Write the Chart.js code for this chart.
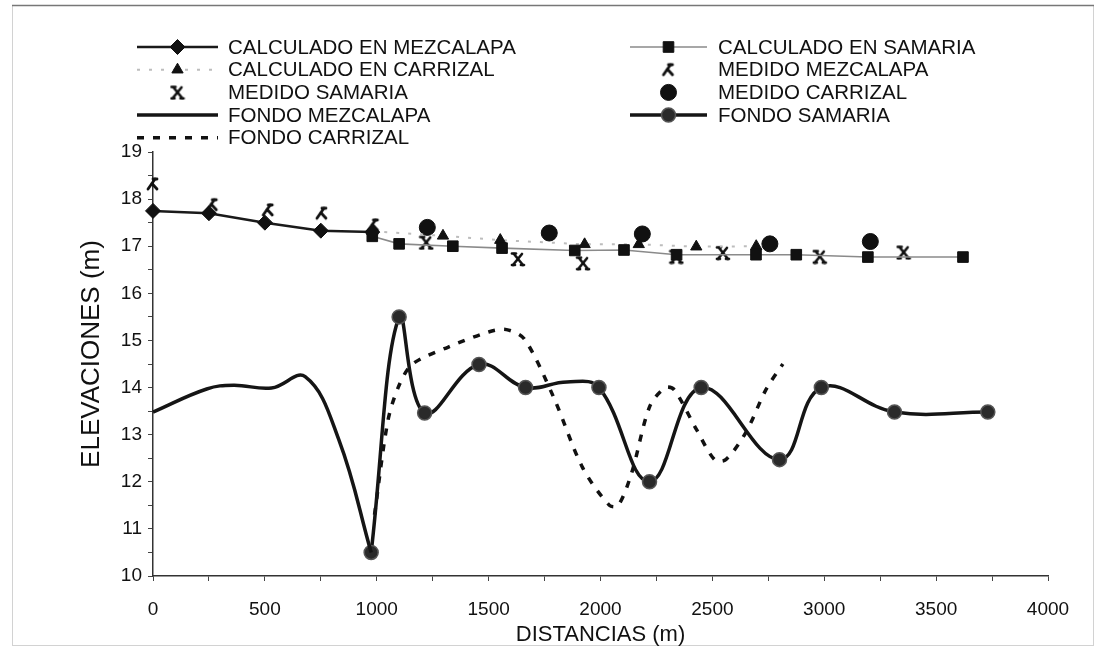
<!DOCTYPE html>
<html><head><meta charset="utf-8">
<script src="https://cdn.jsdelivr.net/npm/chart.js@4.4.1/dist/chart.umd.min.js"></script>
<style>html,body{margin:0;padding:0;background:#fff;}canvas{display:block;}</style>
</head><body>
<canvas id="c" width="1097" height="651"></canvas>
<script>
// ---------- data ----------
const calcMezX = [0, 250, 500, 750, 980];
const calcMezY = [17.75, 17.70, 17.50, 17.33, 17.30];

const calcSamX = [980, 1100, 1340, 1560, 1885, 2105, 2340, 2695, 2875, 3195, 3620];
const calcSamY = [17.21, 17.05, 17.00, 16.96, 16.91, 16.92, 16.82, 16.82, 16.82, 16.77, 16.77];

const calcCarrX = [980, 1296, 1552, 1929, 2171, 2428, 2696];
const calcCarrY = [17.32, 17.22, 17.13, 17.04, 17.04, 16.99, 17.00];

const medMezX = [0, 265, 515, 755, 985];
const medMezY = [18.32, 17.88, 17.77, 17.70, 17.45];

const medSamX = [1221, 1631, 1922, 2339, 2547, 2980, 3355];
const medSamY = [17.08, 16.73, 16.64, 16.78, 16.86, 16.78, 16.87];

const medCarrX = [1226, 1771, 2187, 2757, 3206];
const medCarrY = [17.40, 17.28, 17.26, 17.05, 17.10];

const fondoMezX = [0, 240, 360, 530, 680, 830, 975];
const fondoMezY = [13.48, 13.97, 14.05, 13.99, 14.23, 12.90, 10.50];

const fondoSamX = [975, 1100, 1214, 1457, 1665, 1850, 1993, 2219, 2450, 2800, 2987, 3314, 3731];
const fondoSamY = [10.50, 15.50, 13.46, 14.49, 14.00, 14.12, 14.00, 12.00, 14.00, 12.47, 14.00, 13.48, 13.48];
const fondoSamUnmarked = [1850];

const fondoCarrX = [990, 1050, 1100, 1160, 1320, 1500, 1580, 1660, 1790, 1920, 2040, 2080, 2140, 2220, 2290, 2330, 2430, 2510, 2560, 2650, 2740, 2815];
const fondoCarrY = [11.30, 13.30, 14.05, 14.50, 14.86, 15.18, 15.23, 15.03, 13.80, 12.30, 11.50, 11.50, 12.20, 13.60, 14.00, 13.95, 13.10, 12.47, 12.47, 13.05, 13.96, 14.50];

const seriesLabels = ['CALCULADO EN MEZCALAPA', 'CALCULADO EN SAMARIA', 'CALCULADO EN CARRIZAL', 'MEDIDO MEZCALAPA',
  'MEDIDO SAMARIA', 'MEDIDO CARRIZAL', 'FONDO MEZCALAPA', 'FONDO SAMARIA', 'FONDO CARRIZAL'];

const yTickValues = [10, 11, 12, 13, 14, 15, 16, 17, 18, 19];
const yTickLabels = ['10', '11', '12', '13', '14', '15', '16', '17', '18', '19'];
const xTickValues = [0, 500, 1000, 1500, 2000, 2500, 3000, 3500, 4000];
const xTickLabels = ['0', '500', '1000', '1500', '2000', '2500', '3000', '3500', '4000'];
const yAxisTitle = 'ELEVACIONES (m)';
const xAxisTitle = 'DISTANCIAS (m)';

// ---------- helpers ----------
const pts = (xs, ys) => xs.map((x, i) => ({x: x, y: ys[i]}));
const FONT = '"Liberation Sans", Arial, sans-serif';

function glyphCanvas(draw) {
  const c = document.createElement('canvas');
  c.width = 16; c.height = 16;
  const g = c.getContext('2d');
  g.strokeStyle = '#111'; g.lineCap = 'round';
  draw(g);
  return c;
}
// "lambda"-like marker (MEDIDO MEZCALAPA)
const lambdaMark = glyphCanvas(g => {
  g.lineWidth = 2.8;
  g.beginPath(); g.moveTo(3, 13); g.lineTo(10, 3); g.stroke();
  g.beginPath(); g.moveTo(7, 7.5); g.lineTo(12, 13); g.stroke();
  g.beginPath(); g.moveTo(8, 3); g.lineTo(12, 3); g.stroke();
});
// X with top bar (MEDIDO SAMARIA)
const xMark = glyphCanvas(g => {
  g.lineWidth = 2.6;
  g.beginPath(); g.moveTo(3, 14); g.lineTo(12, 3); g.stroke();
  g.beginPath(); g.moveTo(4, 3); g.lineTo(13, 14); g.stroke();
  g.beginPath(); g.moveTo(2, 2.5); g.lineTo(6, 2.5); g.stroke();
  g.beginPath(); g.moveTo(2, 14); g.lineTo(5, 14); g.stroke();
  g.beginPath(); g.moveTo(11, 14); g.lineTo(14, 14); g.stroke();
});

// ---------- plugins ----------
const framePlugin = {
  id: 'frame',
  beforeDraw(chart) {
    const ctx = chart.ctx;
    ctx.save();
    ctx.fillStyle = '#fff';
    ctx.fillRect(0, 0, chart.width, chart.height);
    ctx.strokeStyle = '#d2d2d2'; ctx.lineWidth = 1;
    ctx.strokeRect(12.5, 5.5, 1081, 640);
    ctx.strokeStyle = '#777'; ctx.lineWidth = 1.5;
    ctx.beginPath(); ctx.moveTo(12, 5.5); ctx.lineTo(1094, 5.5); ctx.stroke();
    ctx.restore();
  },
  afterDraw(chart) {
    const ctx = chart.ctx;
    ctx.save();
    ctx.translate(92, 354);
    ctx.rotate(-Math.PI / 2);
    ctx.fillStyle = '#111';
    ctx.font = '26px ' + FONT;
    ctx.textAlign = 'center';
    ctx.textBaseline = 'middle';
    ctx.fillText(yAxisTitle, 0, 0);
    ctx.restore();
  }
};

const legendPlugin = {
  id: 'customLegend',
  afterDraw(chart) {
    const ctx = chart.ctx;
    chart.data.datasets.forEach((ds, i) => {
      const col = i % 2, row = Math.floor(i / 2);
      const x0 = col ? 630 : 137, x1 = col ? 707 : 218, tx = col ? 718 : 228;
      const y = 47 + row * 22.7;
      ctx.save();
      if (ds.showLine !== false) {
        ctx.strokeStyle = ds.borderColor;
        ctx.lineWidth = ds.borderWidth;
        ctx.setLineDash(ds.borderDash || []);
        ctx.beginPath(); ctx.moveTo(x0, y); ctx.lineTo(x1, y); ctx.stroke();
      }
      ctx.setLineDash([]);
      const r = ds.legendRadius !== undefined ? ds.legendRadius : ds.pointRadius;
      if (r > 0) {
        ctx.fillStyle = ds.pointBackgroundColor;
        ctx.strokeStyle = ds.pointBorderColor;
        ctx.lineWidth = ds.pointBorderWidth || 0;
        Chart.helpers.drawPoint(ctx, {pointStyle: ds.pointStyle, radius: r, borderWidth: ds.pointBorderWidth || 0, rotation: 0}, (x0 + x1) / 2, y);
      }
      ctx.fillStyle = '#111';
      ctx.font = '20.5px ' + FONT;
      ctx.textBaseline = 'middle';
      ctx.textAlign = 'left';
      ctx.fillText(ds.label, tx, y + 1);
      ctx.restore();
    });
  }
};

// ---------- chart ----------
const base = {clip: false, pointBorderColor: '#111', pointBackgroundColor: '#111', pointBorderWidth: 1};

new Chart(document.getElementById('c'), {
  type: 'line',
  data: {
    datasets: [
      Object.assign({}, base, {label: seriesLabels[0], data: pts(calcMezX, calcMezY), borderColor: '#1a1a1a', borderWidth: 2.5,
        pointStyle: 'rectRot', pointRadius: 7.5, tension: 0}),
      Object.assign({}, base, {label: seriesLabels[1], data: pts(calcSamX, calcSamY), borderColor: '#8a8a8a', borderWidth: 1.6,
        pointStyle: 'rect', pointRadius: 7.5, tension: 0}),
      Object.assign({}, base, {label: seriesLabels[2], data: pts(calcCarrX, calcCarrY), borderColor: '#bdbdbd', borderWidth: 2,
        borderDash: [3, 9], pointStyle: 'triangle', pointRadius: 6.5, tension: 0}),
      Object.assign({}, base, {label: seriesLabels[3], data: pts(medMezX, medMezY), showLine: false,
        pointStyle: lambdaMark, pointRadius: 7}),
      Object.assign({}, base, {label: seriesLabels[4], data: pts(medSamX, medSamY), showLine: false,
        pointStyle: xMark, pointRadius: 7}),
      Object.assign({}, base, {label: seriesLabels[5], data: pts(medCarrX, medCarrY), showLine: false,
        pointStyle: 'circle', pointRadius: 8}),
      Object.assign({}, base, {label: seriesLabels[6], data: pts(fondoMezX, fondoMezY), borderColor: '#151515', borderWidth: 3.5,
        pointRadius: 0, tension: 0.4}),
      Object.assign({}, base, {label: seriesLabels[7], data: pts(fondoSamX, fondoSamY), borderColor: '#151515', borderWidth: 3.5,
        pointStyle: 'circle', pointBackgroundColor: '#2a2a2a', pointBorderColor: '#555', pointBorderWidth: 1.5,
        pointRadius: c => fondoSamUnmarked.includes(fondoSamX[c.dataIndex]) ? 0 : 7, legendRadius: 7, tension: 0.4}),
      Object.assign({}, base, {label: seriesLabels[8], data: pts(fondoCarrX, fondoCarrY), borderColor: '#111', borderWidth: 3.5,
        borderDash: [7, 9], pointRadius: 0, tension: 0.3})
    ]
  },
  options: {
    responsive: false,
    animation: false,
    devicePixelRatio: 1,
    layout: {padding: {left: 103, right: 49, top: 152, bottom: 5}},
    plugins: {legend: {display: false}, tooltip: {enabled: false}, title: {display: false}},
    scales: {
      x: {
        type: 'linear', min: 0, max: 4000,
        afterFit: s => { s.height = 70; },
        ticks: {stepSize: 250, autoSkip: false, maxRotation: 0, padding: 17, color: '#111',
          font: {family: FONT, size: 19},
          callback: v => { const k = xTickValues.indexOf(v); return k >= 0 ? xTickLabels[k] : ''; }},
        grid: {drawOnChartArea: false, drawTicks: true, tickLength: 5, tickColor: '#444'},
        border: {display: true, color: '#333', width: 1.5},
        title: {display: true, text: xAxisTitle, color: '#111', padding: 0,
          font: {family: FONT, size: 22, lineHeight: 1}}
      },
      y: {
        type: 'linear', min: 10, max: 19,
        afterFit: s => { s.width = 50; },
        ticks: {stepSize: 0.5, autoSkip: false, padding: 6, color: '#111',
          font: {family: FONT, size: 19},
          callback: v => { const k = yTickValues.indexOf(v); return k >= 0 ? yTickLabels[k] : ''; }},
        grid: {drawOnChartArea: false, drawTicks: true, tickLength: 5, tickColor: '#444'},
        border: {display: true, color: '#333', width: 1.5},
        title: {display: false}
      }
    }
  },
  plugins: [framePlugin, legendPlugin]
});
</script>
</body></html>
